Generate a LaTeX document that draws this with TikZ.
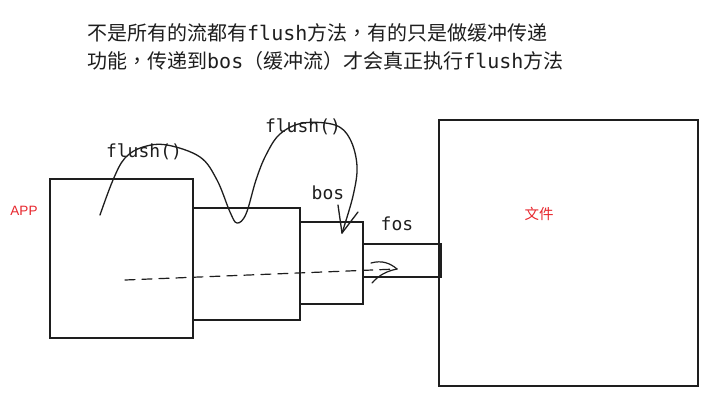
\documentclass[tikz,border=0pt]{standalone}
\usepackage{fontspec}
\newfontfamily\cjk{Noto Sans CJK SC}
\newfontfamily\cjktc{Noto Sans CJK TC}
\newfontfamily\mono{DejaVu Sans Mono}
\newfontfamily\lab{Liberation Sans}
\definecolor{redtxt}{RGB}{232,38,45}
\definecolor{ink}{RGB}{30,30,30}
\newcommand{\fwcomma}{{\cjktc ，}}
\begin{document}
\begin{tikzpicture}[x=1pt,y=-1pt,
  box/.style={draw=ink, line width=1.4pt, inner sep=0pt, outer sep=0pt, anchor=north west},
  stroke/.style={draw=ink, line width=1.3pt, line cap=round, line join=round},
  handtxt/.style={font=\mono\fontsize{18}{20}\selectfont, text=ink, inner sep=0pt},
  redlab/.style={text=redtxt, inner sep=0pt}]
\useasboundingbox[fill=white] (0,0) rectangle (716,408);

% title
\node[anchor=west, inner sep=0pt, text=ink, font=\cjk\fontsize{20}{22}\selectfont] (t1) at (87,33)
  {不是所有的流都有{\mono\fontsize{20}{22}\selectfont flush}方法\fwcomma 有的只是做缓冲传递};
\node[anchor=west, inner sep=0pt, text=ink, font=\cjk\fontsize{20}{22}\selectfont] (t2) at (87,61)
  {功能\fwcomma 传递到{\mono\fontsize{20}{22}\selectfont bos}（缓冲流）才会真正执行{\mono\fontsize{20}{22}\selectfont flush}方法};

% boxes
\node[box, minimum width=143pt, minimum height=159pt] (app) at (50,179) {};
\node[box, minimum width=107pt, minimum height=112pt] (buf) at (193,208) {};
\node[box, minimum width=63pt, minimum height=82pt] (bos) at (300,222) {};
\node[box, minimum width=78pt, minimum height=33pt] (fos) at (363,244) {};
\node[box, minimum width=259pt, minimum height=266pt] (file) at (439,120) {};

% labels
\node[redlab, font=\lab\fontsize{13.5}{15}\selectfont] (applab) at (24,211) {APP};
\node[redlab, font=\cjk\fontsize{14.5}{16}\selectfont] (filelab) at (539,214) {文件};
\node[handtxt] (fl1) at (144,152) {flush()};
\node[handtxt] (fl2) at (303,127) {flush()};
\node[handtxt] (boslab) at (328,193) {bos};
\node[handtxt] (foslab) at (397,224) {fos};

% flush curve
\coordinate (cstart) at (100,215);
\coordinate (ctip) at (342,233);
\draw[stroke] plot[smooth, tension=0.6] coordinates {(cstart) (113,180) (125,158) (143,147) (167,145) (200,157) (217,180) (230,212) (237,223) (246,214) (256,180) (266,155) (280,134) (303,123) (335,125) (350,139) (357,166) (353,196) (ctip)};
\draw[stroke] (ctip) -- ++(-4,-28);
\draw[stroke] (ctip) -- ++(16,-21);

% dashed data flow
\coordinate (dstart) at (125,280);
\coordinate (dend) at (397,269);
\draw[stroke, line width=1.2pt, dash pattern=on 10pt off 7pt] (dstart) -- (dend);
\draw[stroke, line width=1.2pt] (dend) .. controls (390,263) and (382,260) .. (371,263);
\draw[stroke, line width=1.2pt] (dend) .. controls (387,271) and (379,275) .. (372,283);
\end{tikzpicture}
\end{document}
